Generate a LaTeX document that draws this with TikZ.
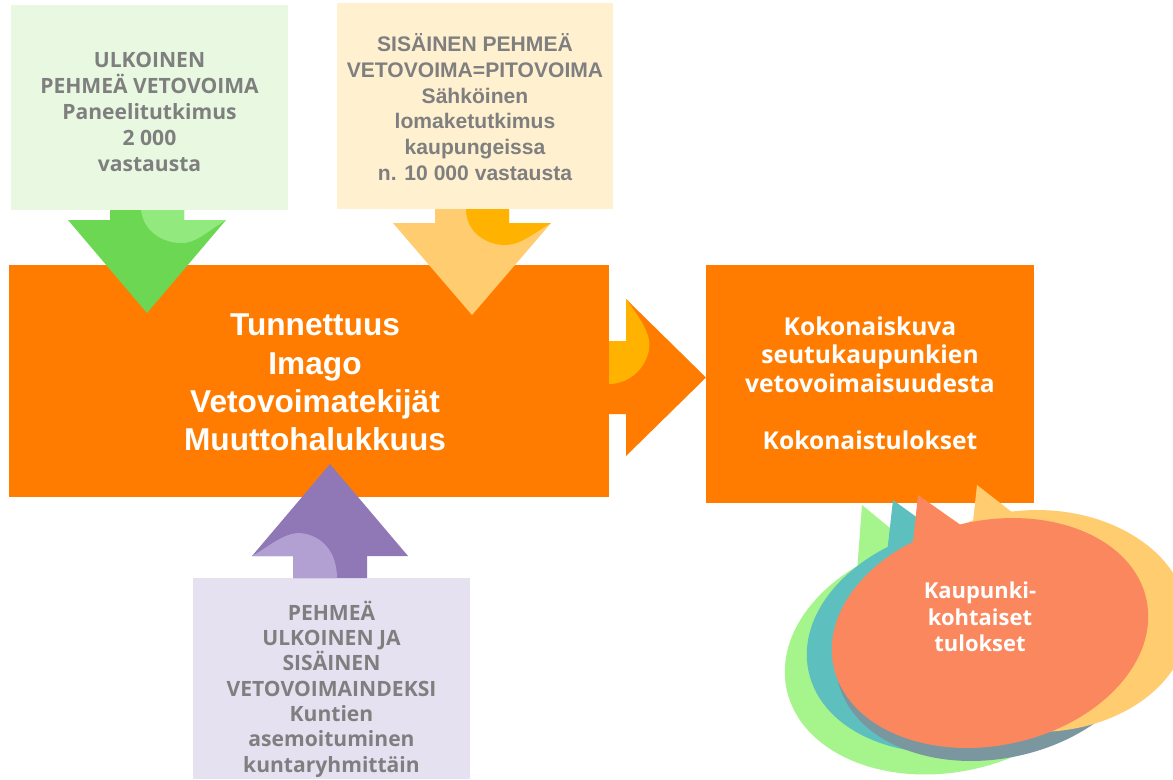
\documentclass[tikz,border=0pt]{standalone}
\usepackage{fontspec}
\setmainfont{Open Sans}
\newfontfamily\arialf{Liberation Sans}
\definecolor{orng}{HTML}{FF7C00}
\definecolor{txtgray}{HTML}{7F7F7F}
\definecolor{grnbg}{HTML}{E9F9E1}
\definecolor{ylwbg}{HTML}{FFF0D0}
\definecolor{prpbg}{HTML}{E6E1F1}
\definecolor{grnarr}{HTML}{6CD752}
\definecolor{grncurl}{HTML}{92E97D}
\definecolor{ylwarr}{HTML}{FFCC70}
\definecolor{ylwcurl}{HTML}{FFB300}
\definecolor{prparr}{HTML}{8F78B5}
\definecolor{prpcurl}{HTML}{B1A0D1}
\definecolor{bgreen}{HTML}{A5F58C}
\definecolor{bteal}{HTML}{5EBFBF}
\definecolor{bslate}{HTML}{7A97A0}
\definecolor{bsalmon}{HTML}{FA875E}
\newcommand{\osb}[2]{\fontsize{#1}{#2}\selectfont\bfseries}
\newcommand{\arb}[2]{\arialf\fontsize{#1}{#2}\selectfont\bfseries}
\tikzset{
  box/.style={rectangle,inner sep=0pt,align=center},
  graytxt/.style={box,text=txtgray},
  whitetxt/.style={box,text=white},
}

\begin{document}
\begin{tikzpicture}[x=0.02cm,y=-0.02cm]
  \useasboundingbox (0,0) rectangle (1173,779);
  % source boxes
  \node[box,fill=grnbg,minimum width=5.54cm,minimum height=4.1cm] (ulk) at (149.5,107.5) {};
  \node[graytxt,font=\osb{12}{14.8}] (ulktxt) at (149.5,111.5)
    {ULKOINEN\\PEHMEÄ VETOVOIMA\\Paneelitutkimus\\2 000\\vastausta};
  \node[box,fill=ylwbg,minimum width=5.52cm,minimum height=4.12cm] (sis) at (475,106) {};
  \node[graytxt,font=\arb{12}{14.6}] (sistxt) at (475,107)
    {SISÄINEN PEHMEÄ\\VETOVOIMA=PITOVOIMA\\Sähköinen\\lomaketutkimus\\kaupungeissa\\n. 10 000 vastausta};
  \node[box,fill=prpbg,minimum width=5.54cm,minimum height=4.02cm] (ind) at (331.5,678.5) {};
  \node[graytxt,font=\osb{12}{14.4}] (indtxt) at (331.5,689)
    {PEHMEÄ\\ULKOINEN JA\\SISÄINEN\\VETOVOIMAINDEKSI\\Kuntien\\asemoituminen\\kuntaryhmittäin};
  % result boxes
  \node[box,fill=orng,minimum width=12cm,minimum height=4.64cm] (tek) at (309,381) {};
  \node[whitetxt,font=\arb{18}{21.9}] (tektxt) at (315,382.5)
    {Tunnettuus\\Imago\\Vetovoimatekijät\\Muuttohalukkuus};
  \node[box,fill=orng,minimum width=6.56cm,minimum height=4.76cm] (koko) at (870,384) {};
  \node[whitetxt,font=\osb{14}{16.2}] (kokotxt) at (870,383)
    {Kokonaiskuva\\seutukaupunkien\\vetovoimaisuudesta\\[16.2pt]Kokonaistulokset};
  % arrows
  \fill[grnarr] (110,210) -- (184,210) -- (184,220) -- (226,220) -- (147,313) -- (68,220) -- (110,220) -- cycle;
  \fill[grncurl] (141,210) -- (184,210) -- (184,220) -- (226,220) .. controls (205,233) and (195,244) .. (180,243)
    .. controls (158,242) and (143,228) .. (141,210) -- cycle;
  \fill[ylwarr] (435,209) -- (509,209) -- (509,223) -- (551,223) -- (472,315) -- (393,223) -- (435,223) -- cycle;
  \fill[ylwcurl] (466,209) -- (509,209) -- (509,223) -- (551,223) .. controls (530,236) and (518,246) .. (503,245)
    .. controls (480,243) and (466,228) .. (466,209) -- cycle;
  \fill[prparr] (293,578) -- (293,556) -- (252,556) -- (330,464) -- (408,556) -- (367,556) -- (367,578) -- cycle;
  \fill[prpcurl] (252,556) .. controls (270,546) and (283,533) .. (300,533) .. controls (322,535) and (337,552) .. (337,578)
    -- (293,578) -- (293,556) -- cycle;
  \fill[orng] (609,341) -- (626,341) -- (626,299) -- (706,377.5) -- (626,456) -- (626,414) -- (609,414) -- cycle;
  \fill[ylwcurl] (626,299) .. controls (640,318) and (652,335) .. (649,350) .. controls (645,370) and (628,384) .. (609,384)
    -- (609,341) -- (626,341) -- cycle;
  % speech bubbles
  \fill[bgreen] (862,505) -- (856,585) -- (935,565) -- cycle;
  \fill[bgreen,rotate around={12:(948,655)}] (948,655) ellipse [x radius=3.3cm, y radius=2.34cm];
  \fill[bteal] (893,500) -- (884,580) -- (955,545) -- cycle;
  \fill[bteal,rotate around={12:(965,638)}] (965,638) ellipse [x radius=3.2cm, y radius=2.25cm];
  \fill[bslate,rotate around={12:(994,646)}] (994,646) ellipse [x radius=3.2cm, y radius=2.25cm];
  \fill[ylwarr] (977,485) -- (971,540) -- (1035,530) -- cycle;
  \fill[ylwarr] (1037,621) ellipse [x radius=3.02cm, y radius=2.22cm];
  \fill[bsalmon] (918,495) -- (910,570) -- (975,535) -- cycle;
  \fill[bsalmon,rotate around={12:(990,633)}] (990,633) ellipse [x radius=3.2cm, y radius=2.25cm];
  \node[whitetxt,font=\osb{12.5}{15}] (kaup) at (980,617) {Kaupunki-\\kohtaiset\\tulokset};
\end{tikzpicture}
\end{document}
